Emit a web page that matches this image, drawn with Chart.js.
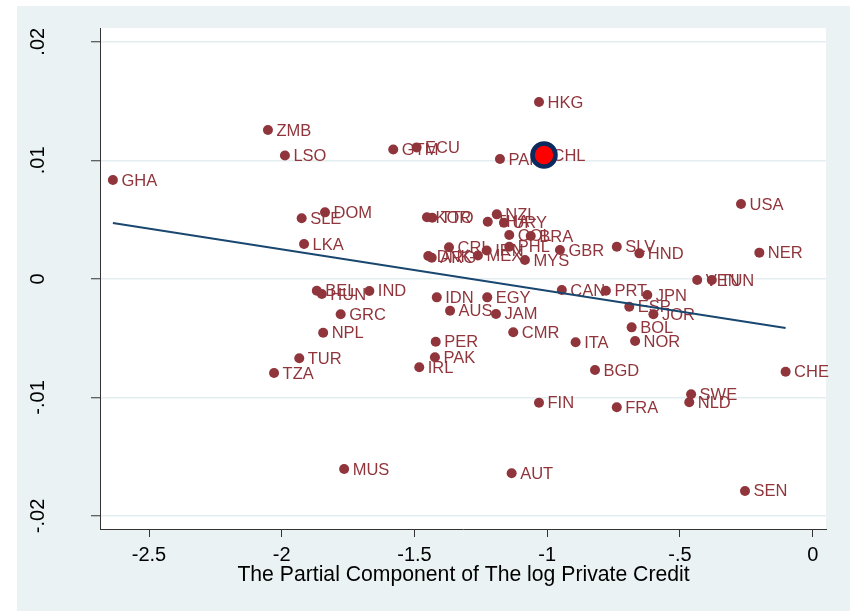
<!DOCTYPE html>
<html><head><meta charset="utf-8">
<script src="https://cdn.jsdelivr.net/npm/chart.js@4.4.1/dist/chart.umd.min.js"></script>
<style>html,body{margin:0;padding:0;background:#fff}</style>
</head><body>
<canvas id="c" width="850" height="612"></canvas>
<script>
const countries = ['GHA','ZMB','LSO','GTM','ECU','PAN','CHL','HKG','USA','DOM','SLE','LKA','KOR','TTO','NZL','THA','URY','COL','BRA','CRI','DNK','ARG','MEX','IRN','PHL','MYS','GBR','SLV','HND','NER','VEN','TUN','BEL','HUN','IND','IDN','EGY','CAN','PRT','JPN','ESP','JOR','GRC','AUS','JAM','NPL','CMR','BOL','NOR','ITA','PER','PAK','TUR','TZA','IRL','BGD','CHE','SWE','NLD','FIN','FRA','MUS','AUT','SEN'];
const xValues = [-2.636,-2.052,-1.988,-1.580,-1.492,-1.178,-1.012,-1.031,-0.270,-1.837,-1.925,-1.916,-1.453,-1.433,-1.190,-1.224,-1.163,-1.143,-1.062,-1.370,-1.448,-1.435,-1.261,-1.228,-1.143,-1.084,-0.952,-0.738,-0.653,-0.201,-0.435,-0.380,-1.868,-1.849,-1.670,-1.416,-1.226,-0.945,-0.779,-0.623,-0.691,-0.600,-1.778,-1.366,-1.193,-1.844,-1.128,-0.682,-0.669,-0.893,-1.420,-1.423,-1.934,-2.029,-1.482,-0.820,-0.102,-0.458,-0.465,-1.031,-0.738,-1.765,-1.134,-0.255];
const yValues = [0.00834,0.01256,0.01040,0.01091,0.01109,0.01011,0.01045,0.01492,0.00631,0.00561,0.00511,0.00294,0.00519,0.00516,0.00544,0.00482,0.00474,0.00370,0.00361,0.00266,0.00193,0.00178,0.00197,0.00239,0.00271,0.00159,0.00243,0.00271,0.00215,0.00221,-0.00010,-0.00010,-0.00100,-0.00128,-0.00102,-0.00156,-0.00156,-0.00094,-0.00100,-0.00136,-0.00235,-0.00299,-0.00299,-0.00269,-0.00296,-0.00454,-0.00451,-0.00409,-0.00524,-0.00535,-0.00530,-0.00662,-0.00670,-0.00794,-0.00746,-0.00769,-0.00783,-0.00974,-0.01041,-0.01045,-0.01083,-0.01604,-0.01640,-0.01789];
const fitX = [-2.636, -0.102];
const fitY = [0.00471, -0.00415];
const highlighted = ['CHL'];
const xTicks = [-2.5, -2, -1.5, -1, -0.5, 0];
const xTickLabels = ['-2.5', '-2', '-1.5', '-1', '-.5', '0'];
const yTicks = [-0.02, -0.01, 0, 0.01, 0.02];
const yTickLabels = ['-.02', '-.01', '0', '.01', '.02'];
const xTitle = 'The Partial Component of The log Private Credit';

const MAROON = '#90353B';
const NAVY = '#1A476F';
const BG = '#EAF2F3';
const FONT = '"Liberation Sans", Arial, sans-serif';

const bgPlugin = {
  id: 'bg',
  beforeDraw(chart) {
    const ctx = chart.ctx, a = chart.chartArea;
    ctx.save();
    ctx.fillStyle = '#fff';
    ctx.fillRect(0, 0, chart.width, chart.height);
    ctx.fillStyle = BG;
    ctx.fillRect(17, 6, chart.width - 17, 605);
    ctx.fillStyle = '#fff';
    ctx.fillRect(a.left, a.top, a.right - a.left, a.bottom - a.top);
    ctx.restore();
  }
};

const labelPlugin = {
  id: 'labels',
  afterDatasetDraw(chart, args) {
    if (args.index !== 0) return;
    const ctx = chart.ctx;
    const meta = chart.getDatasetMeta(0);
    ctx.save();
    ctx.font = '16.5px ' + FONT;
    ctx.fillStyle = MAROON;
    ctx.textAlign = 'left';
    ctx.textBaseline = 'middle';
    meta.data.forEach((pt, i) => {
      ctx.fillText(countries[i], pt.x + 8.5, pt.y + 1);
    });
    ctx.restore();
  }
};

const axisTextPlugin = {
  id: 'axisText',
  afterDraw(chart) {
    const ctx = chart.ctx, ys = chart.scales.y, a = chart.chartArea;
    ctx.save();
    ctx.fillStyle = '#000';
    ctx.font = '20px ' + FONT;
    ctx.textAlign = 'center';
    ctx.textBaseline = 'middle';
    yTicks.forEach((v, i) => {
      const py = ys.getPixelForValue(v);
      ctx.save();
      ctx.translate(38, py);
      ctx.rotate(-Math.PI / 2);
      ctx.fillText(yTickLabels[i], 0, 0);
      ctx.restore();
    });
    ctx.font = '21.2px ' + FONT;
    ctx.fillText(xTitle, 463.5, 575);
    ctx.restore();
  }
};

new Chart(document.getElementById('c'), {
  type: 'scatter',
  data: {
    datasets: [
      {
        type: 'scatter',
        data: countries.map((c, i) => ({ x: xValues[i], y: yValues[i] })),
        pointRadius: 5,
        pointHoverRadius: 5,
        backgroundColor: MAROON,
        borderWidth: 0,
        order: 3
      },
      {
        type: 'line',
        data: fitX.map((x, i) => ({ x: x, y: fitY[i] })),
        borderColor: NAVY,
        borderWidth: 2,
        pointRadius: 0,
        fill: false,
        tension: 0,
        order: 2
      },
      {
        type: 'scatter',
        data: countries.map((c, i) => ({ c: c, x: xValues[i], y: yValues[i] }))
          .filter(d => highlighted.includes(d.c)),
        pointRadius: 11.5,
        pointHoverRadius: 11.5,
        backgroundColor: '#FF0000',
        borderColor: '#0B2A5E',
        borderWidth: 4.5,
        order: 1
      }
    ]
  },
  options: {
    responsive: false,
    animation: false,
    devicePixelRatio: 1,
    layout: { padding: { left: 0, right: 24, top: 28, bottom: 0 } },
    plugins: { legend: { display: false }, tooltip: { enabled: false } },
    events: [],
    scales: {
      x: {
        type: 'linear',
        min: -2.6846,
        max: 0.0501,
        afterBuildTicks: s => { s.ticks = xTicks.map(v => ({ value: v })); },
        afterFit: s => { s.height = 83; },
        grid: { drawOnChartArea: false, drawTicks: true, tickLength: 8, tickColor: '#333', tickWidth: 1 },
        border: { display: true, color: '#333', width: 1 },
        ticks: {
          color: '#000',
          font: { family: FONT, size: 20 },
          padding: 6,
          maxRotation: 0,
          minRotation: 0,
          autoSkip: false,
          callback: v => xTickLabels[xTicks.indexOf(v)]
        }
      },
      y: {
        type: 'linear',
        min: -0.0211,
        max: 0.02116,
        afterBuildTicks: s => { s.ticks = yTicks.map(v => ({ value: v })); },
        afterFit: s => { s.width = 100; },
        grid: { color: '#E4EDF0', lineWidth: 1.5, drawTicks: true, tickLength: 9, tickColor: '#333', tickWidth: 1 },
        border: { display: true, color: '#333', width: 1 },
        ticks: { display: false }
      }
    }
  },
  plugins: [bgPlugin, labelPlugin, axisTextPlugin]
});
</script>
</body></html>
